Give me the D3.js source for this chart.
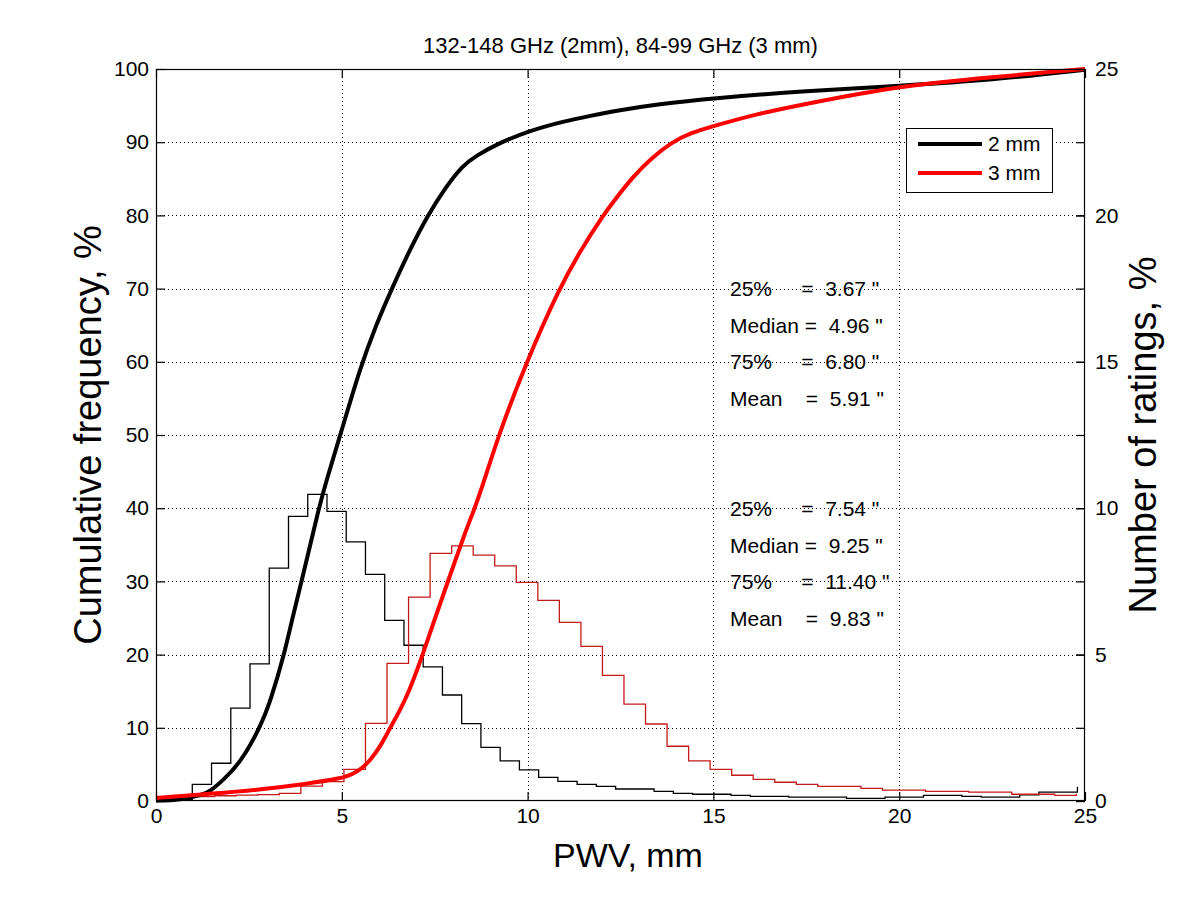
<!DOCTYPE html>
<html>
<head>
<meta charset="utf-8">
<script src="https://cdn.jsdelivr.net/npm/d3@7"></script>
<style>
  html, body { margin: 0; padding: 0; background: #fff; }
  svg { display: block; }
  text { font-family: "Liberation Sans", Arial, Helvetica, sans-serif; fill: #000; }
</style>
</head>
<body>
<svg id="chart" width="1201" height="901"></svg>
<script>
// ---------------- DATA ----------------
const titleText = "132-148 GHz (2mm), 84-99 GHz (3 mm)";
const xLabel = "PWV, mm";
const yLeftLabel = "Cumulative frequency, %";
const yRightLabel = "Number of ratings, %";
const xTicks = [0, 5, 10, 15, 20, 25];
const yLeftTicks = [0, 10, 20, 30, 40, 50, 60, 70, 80, 90, 100];
const yRightTicks = [0, 5, 10, 15, 20, 25];
const seriesNames = ["2 mm", "3 mm"];

// Cumulative frequency curves (PWV mm, %)
const cdf2mmX = [0, 0.5, 0.83, 1.2, 1.45, 1.81, 2.26, 2.8, 3.09, 3.45, 3.67, 3.92, 4.38, 4.59, 4.96, 5.5, 5.92, 6.32, 6.8, 7.31, 7.8, 8.25, 8.6, 9.2, 10.0, 11.0, 11.69, 12.38, 13.5, 15, 17.5, 20, 22.5, 25];
const cdf2mmY = [0.05, 0.12, 0.37, 0.8, 1.27, 2.87, 5.15, 10.0, 13.8, 20, 25, 30, 40, 43.85, 50, 59.3, 65.0, 69.7, 75, 80, 83.9, 86.8, 88.1, 89.8, 91.5, 92.9, 93.6, 94.3, 95.2, 96.0, 97.0, 97.7, 98.5, 99.9];
const cdf3mmX = [0, 1.5, 2.69, 4.0, 5.0, 5.3, 5.56, 5.8, 6.03, 6.3, 6.73, 7.18, 7.51, 7.87, 8.34, 8.58, 8.84, 9.22, 9.97, 10.85, 11.4, 12.03, 12.4, 12.84, 13.3, 13.88, 14.4, 15, 16.2, 17.44, 20, 22.5, 25];
const cdf3mmY = [0.4, 1.0, 1.5, 2.3, 3.1, 3.7, 4.5, 5.8, 7.4, 10, 13.8, 20, 25, 30.2, 37, 40, 43.85, 50, 60, 70, 75, 80, 82.5, 85.3, 87.7, 90.0, 91.3, 92.2, 93.9, 95.2, 97.7, 98.9, 100];

// Histograms (percent of ratings per bin), bin start and width in mm
const hist2mmStart = 0.459, hist2mmWidth = 0.5178;
const hist2mm = [0.05, 0.57, 1.29, 3.17, 4.68, 7.95, 9.72, 10.47, 9.89, 8.85, 7.74, 6.17, 5.32, 4.58, 3.62, 2.64, 1.83, 1.37, 1.06, 0.81, 0.67, 0.57, 0.50, 0.41, 0.41, 0.33, 0.26, 0.23, 0.23, 0.19, 0.16, 0.16, 0.13, 0.13, 0.13, 0.09, 0.09, 0.13, 0.13, 0.19, 0.19, 0.16, 0.13, 0.13, 0.21, 0.30, 0.30];
const hist2mmLast = 0.49;
const hist3mmStart = 0.42, hist3mmWidth = 0.5797;
const hist3mm = [0.12, 0.15, 0.18, 0.2, 0.22, 0.26, 0.51, 0.66, 1.08, 2.65, 4.70, 6.96, 8.46, 8.71, 8.40, 8.03, 7.47, 6.85, 6.10, 5.28, 4.29, 3.31, 2.63, 1.87, 1.37, 1.08, 0.88, 0.74, 0.64, 0.57, 0.50, 0.50, 0.43, 0.37, 0.37, 0.33, 0.33, 0.30, 0.30, 0.23, 0.23, 0.19];
const hist3mmLast = 0.25;

const stats2mm = ["25%     =  3.67 \"", "Median =  4.96 \"", "75%     =  6.80 \"", "Mean    =  5.91 \""];
const stats3mm = ["25%     =  7.54 \"", "Median =  9.25 \"", "75%     =  11.40 \"", "Mean    =  9.83 \""];

// ---------------- LAYOUT ----------------
const L = 156, R = 1085, T = 69, B = 801;
const svg = d3.select("#chart");
const x = d3.scaleLinear().domain([0, 25]).range([L, R]);
const yL = d3.scaleLinear().domain([0, 100]).range([B, T]);
const yR = d3.scaleLinear().domain([0, 25]).range([B, T]);

const colBlack = "#000";
const colRed = "#ff0000";
const colRedHist = "#c41a1a";

svg.append("rect").attr("x", 0).attr("y", 0).attr("width", 1201).attr("height", 901).attr("fill", "#fff");
svg.append("rect").attr("x", L).attr("y", T).attr("width", R - L).attr("height", B - T).attr("fill", "#fff");

// grid
const grid = svg.append("g").attr("stroke", "#000").attr("stroke-width", 1).attr("stroke-dasharray", "1,3");
grid.selectAll("line.gx").data(xTicks.filter(d => d > 0 && d < 25)).join("line")
  .attr("x1", d => Math.round(x(d)) + 0.5).attr("x2", d => Math.round(x(d)) + 0.5)
  .attr("y1", T).attr("y2", B);
grid.selectAll("line.gy").data(yLeftTicks.filter(d => d > 0 && d < 100)).join("line")
  .attr("class", "gy")
  .attr("x1", L).attr("x2", R)
  .attr("y1", d => Math.round(yL(d)) + 0.5).attr("y2", d => Math.round(yL(d)) + 0.5);

// histograms (stairs)
function stairs(start, width, vals, last) {
  const pts = vals.map((v, i) => [start + i * width, v]);
  pts.push([start + vals.length * width, last]);
  return pts;
}
const stairLine = d3.line().x(d => x(d[0])).y(d => yR(d[1])).curve(d3.curveStepAfter);
svg.append("path").datum(stairs(hist2mmStart, hist2mmWidth, hist2mm, hist2mmLast))
  .attr("d", stairLine).attr("fill", "none").attr("stroke", colBlack).attr("stroke-width", 1.3);
svg.append("path").datum(stairs(hist3mmStart, hist3mmWidth, hist3mm, hist3mmLast))
  .attr("d", stairLine).attr("fill", "none").attr("stroke", colRedHist).attr("stroke-width", 1.3);

// CDF curves
const cdfLine = d3.line().x(d => x(d[0])).y(d => yL(d[1])).curve(d3.curveBasis);
svg.append("path").datum(cdf2mmX.map((v, i) => [v, cdf2mmY[i]]))
  .attr("d", cdfLine).attr("fill", "none").attr("stroke", colBlack).attr("stroke-width", 4);
svg.append("path").datum(cdf3mmX.map((v, i) => [v, cdf3mmY[i]]))
  .attr("d", cdfLine).attr("fill", "none").attr("stroke", colRed).attr("stroke-width", 4);

// frame
svg.append("rect").attr("x", L + 0.5).attr("y", T + 0.5).attr("width", R - L - 1).attr("height", B - T - 1)
  .attr("fill", "none").attr("stroke", "#000").attr("stroke-width", 1.2);

// axes
const tickFont = 21;
function styleAxis(g) {
  g.select(".domain").remove();
  g.selectAll(".tick line").attr("stroke", "#000").attr("stroke-width", 1.2);
  g.selectAll(".tick text").attr("font-size", tickFont).attr("fill", "#000")
    .style("font-family", "'Liberation Sans', Arial, sans-serif");
}
svg.append("g").attr("transform", `translate(0,${B})`)
  .call(d3.axisBottom(x).tickValues(xTicks).tickFormat(d3.format("d")).tickSizeInner(-9).tickSizeOuter(0).tickPadding(7))
  .call(styleAxis);
svg.append("g").attr("transform", `translate(0,${T})`)
  .call(d3.axisTop(x).tickValues(xTicks).tickFormat("").tickSizeInner(-9).tickSizeOuter(0))
  .call(styleAxis);
svg.append("g").attr("transform", `translate(${L},0)`)
  .call(d3.axisLeft(yL).tickValues(yLeftTicks).tickFormat(d3.format("d")).tickSizeInner(-9).tickSizeOuter(0).tickPadding(7))
  .call(styleAxis);
svg.append("g").attr("transform", `translate(${R},0)`)
  .call(d3.axisRight(yL).tickValues(yLeftTicks).tickFormat("").tickSizeInner(-9).tickSizeOuter(0))
  .call(styleAxis);
svg.append("g").attr("transform", `translate(${R},0)`)
  .call(d3.axisRight(yR).tickValues(yRightTicks).tickFormat(d3.format("d")).tickSizeInner(-9).tickSizeOuter(0).tickPadding(10))
  .call(styleAxis);

// titles
svg.append("text").attr("x", (L + R) / 2).attr("y", 53).attr("text-anchor", "middle")
  .attr("font-size", 22).text(titleText);
svg.append("text").attr("x", 628).attr("y", 867).attr("text-anchor", "middle")
  .attr("font-size", 34).text(xLabel);
svg.append("text").attr("transform", `translate(101,${(T + B) / 2}) rotate(-90)`).attr("text-anchor", "middle")
  .attr("font-size", 38).text(yLeftLabel);
svg.append("text").attr("transform", `translate(1156,${(T + B) / 2}) rotate(-90)`).attr("text-anchor", "middle")
  .attr("font-size", 38).text(yRightLabel);

// legend
const lg = svg.append("g");
lg.append("rect").attr("x", 906.5).attr("y", 128.5).attr("width", 146).attr("height", 64)
  .attr("fill", "#fff").attr("stroke", "#000").attr("stroke-width", 1);
[colBlack, colRed].forEach((c, i) => {
  const yy = 144 + i * 29;
  lg.append("line").attr("x1", 918).attr("x2", 982).attr("y1", yy).attr("y2", yy)
    .attr("stroke", c).attr("stroke-width", 4);
  lg.append("text").attr("x", 988).attr("y", yy + 7).attr("font-size", 21).text(seriesNames[i]);
});

// statistics
stats2mm.forEach((s, i) => {
  svg.append("text").attr("x", 730).attr("y", 296 + i * 36.7).attr("font-size", 21)
    .style("white-space", "pre").attr("fill", "#000").text(s);
});
stats3mm.forEach((s, i) => {
  svg.append("text").attr("x", 730).attr("y", 516 + i * 36.7).attr("font-size", 21)
    .style("white-space", "pre").attr("fill", "#e00000").text(s);
});
</script>
</body>
</html>
